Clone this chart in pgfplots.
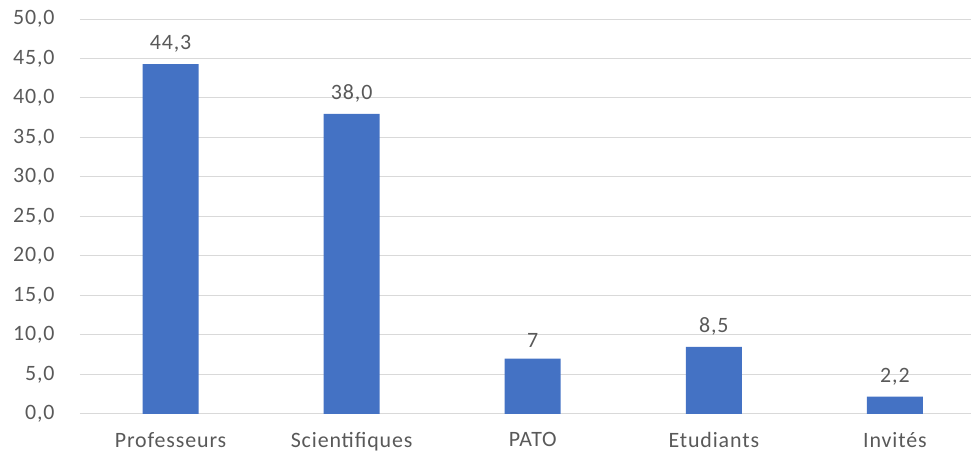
\documentclass[border=0pt]{standalone}
\usepackage{pgfplots}
\pgfplotsset{compat=1.18}
\usepackage{fontspec}
\setmainfont{Carlito}[LetterSpace=4]
\definecolor{barblue}{HTML}{4472C4}
\definecolor{gridgray}{HTML}{D9D9D9}
\definecolor{labelgray}{HTML}{595959}

\begin{document}
\begin{tikzpicture}
\begin{axis}[
    scale only axis,
    width=891bp, height=395bp,
    xmin=-0.5, xmax=4.42,
    ymin=0, ymax=50,
    ytick={0,5,...,50},
    xtick={0,1,2,3,4},
    xticklabels={Professeurs,Scientifiques,PATO,Etudiants,Invités},
    axis line style={draw=none},
    major tick length=0pt,
    ymajorgrids,
    grid style={gridgray, line width=1bp},
    /pgf/number format/assume math mode=true,
    /pgf/number format/.cd, fixed, fixed zerofill, precision=1, use comma,
    /pgfplots/.cd,
    ticklabel style={font=\fontsize{22}{26}\selectfont, text=labelgray},
    yticklabel style={xshift=-22bp},
    xticklabel style={yshift=-15bp},
    clip=false,
]
\addplot[ybar, bar width=56bp, fill=barblue, draw=none,
    point meta=explicit symbolic,
    nodes near coords,
    every node near coord/.append style={font=\fontsize{22}{26}\selectfont, text=labelgray, yshift=8bp}]
    coordinates {
    (0,44.3) [44,3]
    (1,38.0) [38,0]
    (2,7.0) [7]
    (3,8.5) [8,5]
    (4,2.2) [2,2]
    };
\end{axis}
\pgfresetboundingbox
\path ([shift={(-80bp,-44bp)}]current axis.south west) rectangle ([shift={(0bp,19bp)}]current axis.north east);
\end{tikzpicture}
\end{document}
